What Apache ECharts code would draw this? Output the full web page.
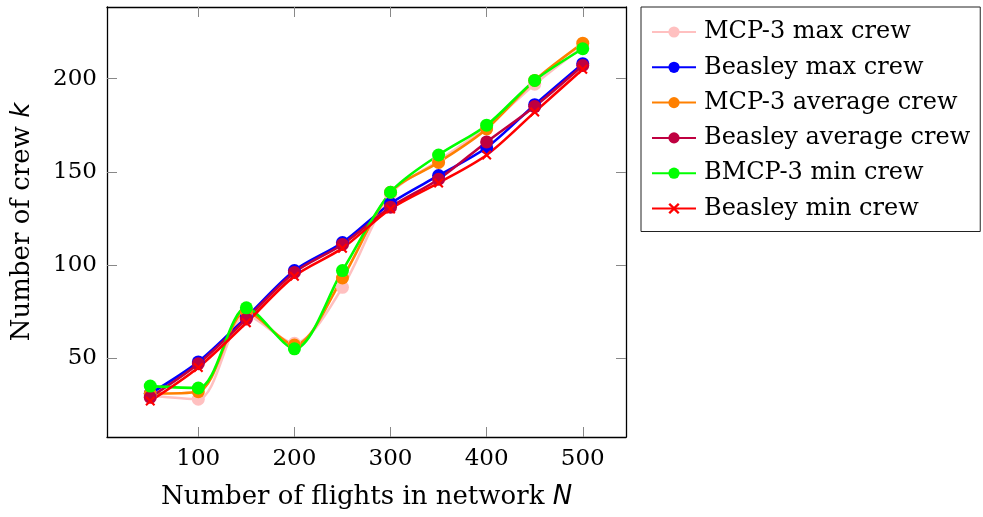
<!DOCTYPE html>
<html>
<head>
<meta charset="utf-8">
<script src="https://cdn.jsdelivr.net/npm/echarts@6/dist/echarts.min.js"></script>
<style>
  html, body { margin: 0; padding: 0; background: #fff; }
  #chart { width: 983px; height: 517px; }
</style>
</head>
<body>
<div id="chart"></div>
<script>
// flights in network
var flights = [50, 100, 150, 200, 250, 300, 350, 400, 450, 500];

// crew counts
var mcpMax     = [30, 28, 73, 58, 88, 138, 156, 174, 197, 217];
var beasleyMax = [31, 48, 72, 97, 112, 133, 148, 163, 186, 208];
var mcpAvg     = [31, 32, 75, 57, 93, 139, 155, 173, 199, 219];
var beasleyAvg = [29, 47, 71, 96, 111, 131, 146, 166, 185, 207];
var bmcpMin    = [35, 34, 77, 55, 97, 139, 159, 175, 199, 216];
var beasleyMin = [27, 45, 69, 94, 109, 130, 144, 159, 182, 205];

var xTicks = [100, 200, 300, 400, 500];
var yTicks = [50, 100, 150, 200];

var serif = 'DejaVu Serif';
var crossPath = 'path://M0,1.5L1.5,0L5,3.5L8.5,0L10,1.5L6.5,5L10,8.5L8.5,10L5,6.5L1.5,10L0,8.5L3.5,5Z';

function pairs(ys) {
    var out = [];
    for (var i = 0; i < flights.length; i++) out.push([flights[i], ys[i]]);
    return out;
}

function mkSeries(name, ys, color, symbol, size) {
    return {
        name: name,
        type: 'line',
        data: pairs(ys),
        smooth: 0.3,
        symbol: symbol,
        symbolSize: size,
        showAllSymbol: true,
        lineStyle: { color: color, width: 2.6 },
        itemStyle: { color: color },
        emphasis: { disabled: true },
        animation: false
    };
}

var chart = echarts.init(document.getElementById('chart'), null, { renderer: 'canvas' });

var tickStyle = { show: true, inside: true, length: 10, lineStyle: { color: '#888', width: 1 } };

var option = {
    backgroundColor: '#fff',
    animation: false,
    grid: { left: 107, right: 357, top: 7, bottom: 80 },
    legend: {
        orient: 'vertical',
        left: 641,
        top: 7,
        padding: [13, 10, 11, 10],
        itemGap: 11.3,
        itemWidth: 44,
        itemHeight: 14,
        borderColor: '#222',
        borderWidth: 1,
        textStyle: { fontFamily: serif, fontSize: 24, lineHeight: 24, color: '#000', padding: [0, 0, 0, 3] },
        data: ['MCP-3 max crew', 'Beasley max crew', 'MCP-3 average crew',
               'Beasley average crew', 'BMCP-3 min crew', 'Beasley min crew']
    },
    xAxis: [{
        type: 'value',
        min: 5,
        max: 545,
        name: 'Number of flights in network {i|N}',
        nameLocation: 'middle',
        nameGap: 47,
        nameTextStyle: {
            fontFamily: serif, fontSize: 26, color: '#000',
            rich: { i: { fontFamily: 'DejaVu Sans', fontStyle: 'italic', fontSize: 26 } }
        },
        axisLine: { show: true, onZero: false, lineStyle: { color: '#000', width: 1.3 } },
        axisTick: Object.assign({ customValues: xTicks }, tickStyle),
        axisLabel: { customValues: xTicks, margin: 11, fontFamily: serif, fontSize: 23, color: '#000' },
        splitLine: { show: false }
    }, {
        type: 'value',
        position: 'top',
        min: 5,
        max: 545,
        axisLine: { show: true, onZero: false, lineStyle: { color: '#000', width: 1.3 } },
        axisTick: Object.assign({ customValues: xTicks }, tickStyle),
        axisLabel: { show: false },
        splitLine: { show: false }
    }],
    yAxis: [{
        type: 'value',
        min: 7.7,
        max: 238.4,
        name: 'Number of crew {i|k}',
        nameLocation: 'middle',
        nameGap: 72,
        nameTextStyle: {
            fontFamily: serif, fontSize: 26, color: '#000',
            rich: { i: { fontFamily: 'DejaVu Sans', fontStyle: 'italic', fontSize: 26 } }
        },
        axisLine: { show: true, onZero: false, lineStyle: { color: '#000', width: 1.3 } },
        axisTick: Object.assign({ customValues: yTicks }, tickStyle),
        axisLabel: { customValues: yTicks, margin: 10, fontFamily: serif, fontSize: 23, color: '#000' },
        splitLine: { show: false }
    }, {
        type: 'value',
        position: 'right',
        min: 7.7,
        max: 238.4,
        axisLine: { show: true, onZero: false, lineStyle: { color: '#000', width: 1.3 } },
        axisTick: Object.assign({ customValues: yTicks }, tickStyle),
        axisLabel: { show: false },
        splitLine: { show: false }
    }],
    series: [
        mkSeries('MCP-3 max crew', mcpMax, '#ffc0c0', 'circle', 13),
        mkSeries('Beasley max crew', beasleyMax, '#0000ff', 'circle', 13),
        mkSeries('MCP-3 average crew', mcpAvg, '#ff8000', 'circle', 13),
        mkSeries('Beasley average crew', beasleyAvg, '#bf0040', 'circle', 13),
        mkSeries('BMCP-3 min crew', bmcpMin, '#00ff00', 'circle', 13),
        mkSeries('Beasley min crew', beasleyMin, '#ff0000', crossPath, 10)
    ]
};

chart.setOption(option);
</script>
</body>
</html>
